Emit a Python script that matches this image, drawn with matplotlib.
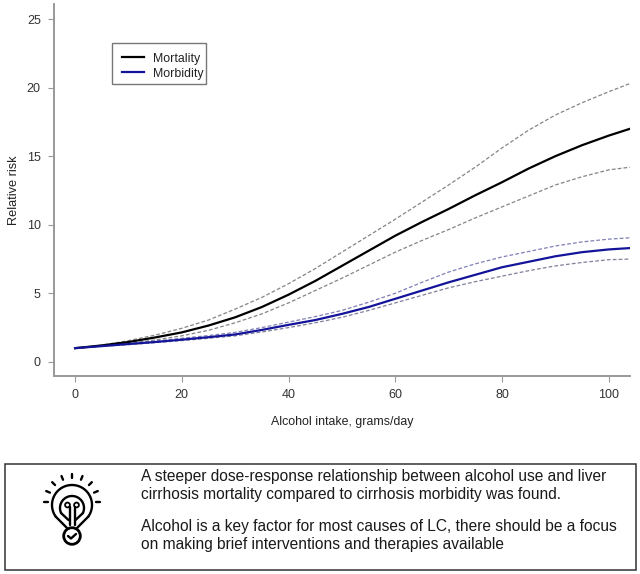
import matplotlib
matplotlib.use("Agg")
import matplotlib.pyplot as plt
from matplotlib.patches import Rectangle, Circle
import numpy as np

plt.rcParams['font.family'] = ['Liberation Sans', 'DejaVu Sans']

intake = [0, 5, 10, 15, 20, 25, 30, 35, 40, 45, 50, 55, 60, 65, 70, 75, 80, 85, 90, 95, 100, 104]
mort = [1.0, 1.2, 1.45, 1.78, 2.15, 2.65, 3.25, 4.0, 4.9, 5.9, 7.0, 8.1, 9.2, 10.2, 11.15, 12.15, 13.1, 14.1, 15.0, 15.8, 16.5, 17.0]
mort_hi = [1.0, 1.22, 1.55, 1.95, 2.45, 3.05, 3.85, 4.7, 5.7, 6.8, 8.0, 9.2, 10.4, 11.65, 12.9, 14.2, 15.6, 16.9, 18.0, 18.9, 19.7, 20.3]
mort_lo = [1.0, 1.15, 1.35, 1.6, 1.9, 2.3, 2.85, 3.5, 4.3, 5.2, 6.1, 7.05, 8.0, 8.85, 9.65, 10.5, 11.3, 12.1, 12.9, 13.5, 14.0, 14.2]
morb = [1.0, 1.15, 1.3, 1.45, 1.62, 1.8, 2.0, 2.33, 2.7, 3.05, 3.5, 4.0, 4.6, 5.2, 5.8, 6.35, 6.9, 7.3, 7.7, 8.0, 8.2, 8.3]
morb_hi = [1.0, 1.17, 1.34, 1.52, 1.72, 1.92, 2.15, 2.5, 2.9, 3.3, 3.75, 4.35, 5.0, 5.8, 6.55, 7.15, 7.65, 8.05, 8.45, 8.75, 8.95, 9.05]
morb_lo = [1.0, 1.13, 1.26, 1.4, 1.55, 1.72, 1.9, 2.18, 2.5, 2.85, 3.25, 3.75, 4.3, 4.85, 5.4, 5.85, 6.25, 6.65, 7.0, 7.25, 7.45, 7.5]
xticks = [0, 20, 40, 60, 80, 100]
yticks = [0, 5, 10, 15, 20, 25]
box_lines = ["A steeper dose-response relationship between alcohol use and liver",
             "cirrhosis mortality compared to cirrhosis morbidity was found.",
             "Alcohol is a key factor for most causes of LC, there should be a focus",
             "on making brief interventions and therapies available"]

W, H = 640, 574
fig = plt.figure(figsize=(W/100, H/100), dpi=100)
ax = fig.add_axes([54/W, 1-376/H, (630-54)/W, (376-4)/H])
ax.set_xlim(-3.95, 104)
ax.set_ylim(-1.03, 26.1)
gray = '#999999'
for s in ('top', 'right'):
    ax.spines[s].set_visible(False)
for s in ('left', 'bottom'):
    ax.spines[s].set_color(gray)
    ax.spines[s].set_linewidth(1.4)
ax.set_xticks(xticks)
ax.set_yticks(yticks)
ax.tick_params(labelcolor='#333333', labelsize=9, length=4.5, width=0.8, color=gray, pad=5)
ax.set_xlabel("Alcohol intake, grams/day", fontsize=8.9, color='#222222', labelpad=11)
ax.set_ylabel("Relative risk", fontsize=9.2, color='#222222', labelpad=5)

dash = (0, (3, 1.7))
ax.plot(intake, mort_hi, ls=dash, lw=0.9, color='#858585')
ax.plot(intake, mort_lo, ls=dash, lw=0.9, color='#858585')
ax.plot(intake, morb_hi, ls=dash, lw=0.9, color='#7f7fb5')
ax.plot(intake, morb_lo, ls=dash, lw=0.9, color='#80809a')
l1, = ax.plot(intake, mort, color='black', lw=1.6, label='Mortality')
l2, = ax.plot(intake, morb, color='#14149a', lw=1.6, label='Morbidity')

leg = ax.legend(handles=[l1, l2], loc='upper left', bbox_to_anchor=((111-54)/576, 1-(42-4)/372),
                borderaxespad=0, fontsize=8.9, frameon=False, handlelength=1.8, handletextpad=0.75,
                labelspacing=0.25, borderpad=0.85, labelcolor='#222222')

# Overlay in pixel coordinates for the legend frame, text box and icon
ov = fig.add_axes([0, 0, 1, 1])
ov.set_xlim(0, W)
ov.set_ylim(H, 0)
ov.axis('off')
ov.patch.set_alpha(0)
ov.add_patch(Rectangle((111.5, 42.5), 94.5, 41, fill=False, ec='#777777', lw=1.0))
ov.add_patch(Rectangle((4.5, 463.5), 631, 106.5, fill=False, ec='#333333', lw=1.1))
for t, y in zip(box_lines, [477, 494, 527, 544]):
    ov.text(141, y, t, fontsize=11.2, color='#1a1a1a', va='center', ha='left')

# Light-bulb icon
ik = dict(color='black', lw=1.7, solid_capstyle='round')
c = (72, 505)
th = np.radians(np.linspace(-215, 35, 60))
ov.plot(c[0]+20*np.cos(th), c[1]+20*np.sin(th), **ik)
th2 = np.radians(np.linspace(-205, 25, 60))
ov.plot(c[0]+12*np.cos(th2), c[1]+3+12*np.sin(th2), **ik)
ov.plot([c[0]-16.4, c[0]-5], [c[1]+11.5, c[1]+23], **ik)
ov.plot([c[0]+16.4, c[0]+5], [c[1]+11.5, c[1]+23], **ik)
ov.plot([c[0]-11, c[0]-3.5], [c[1]+8, c[1]+15], **ik)
ov.plot([c[0]+11, c[0]+3.5], [c[1]+8, c[1]+15], **ik)
ov.plot([c[0]-2.5, c[0]-2.5], [c[1]+2, c[1]+20], **ik)
ov.plot([c[0]+2.5, c[0]+2.5], [c[1]+2, c[1]+20], **ik)
ov.add_patch(Circle((c[0]-4.5, c[1]), 2.4, fill=False, ec='black', lw=1.3))
ov.add_patch(Circle((c[0]+4.5, c[1]), 2.4, fill=False, ec='black', lw=1.3))
ov.add_patch(Circle((72, 536), 8.3, fill=False, ec='black', lw=2))
ov.plot([68, 71, 76], [536, 538.5, 534], **ik)
for ang in [-180, -157, -135, -112, -90, -68, -45, -23, 0]:
    a = np.radians(ang)
    ov.plot([c[0]+24*np.cos(a), c[0]+28*np.cos(a)], [c[1]-3+24*np.sin(a), c[1]-3+28*np.sin(a)], **ik)

fig.savefig('out.png', dpi=100, facecolor='white')
